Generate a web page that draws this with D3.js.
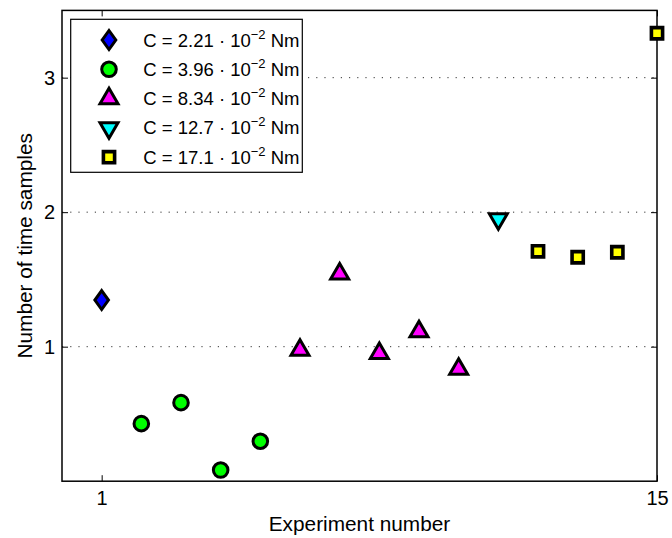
<!DOCTYPE html>
<html>
<head>
<meta charset="utf-8">
<script src="https://cdn.jsdelivr.net/npm/d3@7"></script>
<style>
  html, body { margin: 0; padding: 0; background: #fff; }
  svg { display: block; font-family: "Liberation Sans", Arial, Helvetica, sans-serif; }
</style>
</head>
<body>
<svg id="chart" width="672" height="538"></svg>
<script>
// Experiment index and measured number of time samples
const experiments = [1, 2, 3, 4, 5, 6, 7, 8, 9, 10, 11, 12, 13, 14, 15];
const samples = [1.347, 0.428, 0.584, 0.083, 0.297, 0.975, 1.542, 0.951, 1.112, 0.833, 1.950, 1.709, 1.665, 1.702, 3.33];
// Which torque group each experiment belongs to
const groupOf = [0, 1, 1, 1, 1, 2, 2, 2, 2, 2, 3, 4, 4, 4, 4];

// Torque groups: legend value, marker shape, fill colour
const torqueValues = ["2.21", "3.96", "8.34", "12.7", "17.1"];
const markerShapes = ["diamond", "circle", "triangleUp", "triangleDown", "square"];
const markerColors = ["#0000ff", "#00ff00", "#ff00ff", "#00ffff", "#ffff00"];

const xTicks = [1, 15];
const yTicks = [1, 2, 3];

const margin = { left: 62, right: 15, top: 10.4, bottom: 56.8 };
const W = 672, H = 538;
const svg = d3.select("#chart");

const x = d3.scaleLinear().domain([0, 15]).range([margin.left, W - margin.right]);
const y = d3.scaleLinear().domain([0, 3.5]).range([H - margin.bottom, margin.top]);

const x0 = x.range()[0], x1 = x.range()[1];
const y0 = y.range()[0], y1 = y.range()[1];

// Dotted horizontal grid
svg.append("g")
  .selectAll("line")
  .data(yTicks)
  .join("line")
  .attr("x1", x0).attr("x2", x1)
  .attr("y1", d => y(d)).attr("y2", d => y(d))
  .attr("stroke", "#333")
  .attr("stroke-width", 1)
  .attr("stroke-dasharray", "1.2,7");

const tickLen = 6;
const tickFont = 20;
const labelFont = 20.8;
const fmt = d3.format("d");

// Bottom axis with inward ticks
const xAxis = d3.axisBottom(x).tickValues(xTicks).tickFormat(fmt)
  .tickSizeInner(-tickLen).tickSizeOuter(0).tickPadding(10);
svg.append("g").attr("transform", `translate(0,${y0})`).call(xAxis)
  .attr("font-family", null).attr("font-size", tickFont)
  .call(g => g.select(".domain").remove())
  .call(g => g.selectAll("text").attr("fill", "#000"))
  .call(g => g.selectAll("line").attr("stroke", "#000"));

// Top axis ticks (box)
svg.append("g").attr("transform", `translate(0,${y1})`)
  .call(d3.axisTop(x).tickValues(xTicks).tickSizeInner(-tickLen).tickSizeOuter(0).tickFormat(""))
  .call(g => g.select(".domain").remove())
  .call(g => g.selectAll("line").attr("stroke", "#000"));

// Left axis with inward ticks
const yAxis = d3.axisLeft(y).tickValues(yTicks).tickFormat(fmt)
  .tickSizeInner(-tickLen).tickSizeOuter(0).tickPadding(7);
svg.append("g").attr("transform", `translate(${x0},0)`).call(yAxis)
  .attr("font-family", null).attr("font-size", tickFont)
  .call(g => g.select(".domain").remove())
  .call(g => g.selectAll("text").attr("fill", "#000"))
  .call(g => g.selectAll("line").attr("stroke", "#000"));

// Right axis ticks (box)
svg.append("g").attr("transform", `translate(${x1},0)`)
  .call(d3.axisRight(y).tickValues(yTicks).tickSizeInner(-tickLen).tickSizeOuter(0).tickFormat(""))
  .call(g => g.select(".domain").remove())
  .call(g => g.selectAll("line").attr("stroke", "#000"));

// Axes box
svg.append("rect")
  .attr("x", x0).attr("y", y1)
  .attr("width", x1 - x0).attr("height", y0 - y1)
  .attr("fill", "none").attr("stroke", "#000").attr("stroke-width", 1.5);

// Axis titles
svg.append("text")
  .attr("x", (x0 + x1) / 2).attr("y", 531)
  .attr("text-anchor", "middle").attr("font-size", labelFont)
  .text("Experiment number");

svg.append("text")
  .attr("transform", `translate(32,${(y0 + y1) / 2}) rotate(-90)`)
  .attr("text-anchor", "middle").attr("font-size", labelFont)
  .text("Number of time samples");

// Marker path generators (centred on the data point)
function markerPath(shape) {
  switch (shape) {
    case "diamond":
      return "M0,-9.5L6.8,0L0,9.5L-6.8,0Z";
    case "circle":
      return d3.symbol(d3.symbolCircle, Math.PI * 7.3 * 7.3)();
    case "triangleUp": {
      const r = 10.4;
      const h = r * Math.sqrt(3) / 2;
      return `M0,${-r}L${h},${r / 2}L${-h},${r / 2}Z`;
    }
    case "triangleDown": {
      const r = 10.4;
      const h = r * Math.sqrt(3) / 2;
      return `M0,${r}L${h},${-r / 2}L${-h},${-r / 2}Z`;
    }
    case "square":
      return "M-5.6,-5.6H5.6V5.6H-5.6Z";
  }
}

const points = experiments.map((e, i) => ({ e, v: samples[i], g: groupOf[i] }));

svg.append("g")
  .selectAll("path")
  .data(points)
  .join("path")
  .attr("transform", d => `translate(${x(d.e)},${y(d.v)})`)
  .attr("d", d => markerPath(markerShapes[d.g]))
  .attr("fill", d => markerColors[d.g])
  .attr("stroke", "#000")
  .attr("stroke-width", d => markerShapes[d.g] === "square" ? 3.6 : 3)
  .attr("stroke-linejoin", "miter");

// Legend
const legend = svg.append("g");
legend.append("rect")
  .attr("x", 70.7).attr("y", 19.3)
  .attr("width", 231.6).attr("height", 153)
  .attr("fill", "#fff").attr("stroke", "#000").attr("stroke-width", 1.2);

const rowY = i => 40 + i * 29.3;
const rows = legend.selectAll("g.row")
  .data(torqueValues)
  .join("g")
  .attr("class", "row");

rows.append("path")
  .attr("transform", (d, i) => `translate(109,${rowY(i)})`)
  .attr("d", (d, i) => markerPath(markerShapes[i]))
  .attr("fill", (d, i) => markerColors[i])
  .attr("stroke", "#000")
  .attr("stroke-width", (d, i) => markerShapes[i] === "square" ? 3.6 : 3);

const txt = rows.append("text")
  .attr("x", 143.3)
  .attr("y", (d, i) => rowY(i) + 6.5)
  .attr("font-size", 18.5);
txt.append("tspan").text(d => `C = ${d} \u00b7 10`);
txt.append("tspan").attr("dy", -8).attr("font-size", 13).text("\u22122");
txt.append("tspan").attr("dy", 8).text(" Nm");
</script>
</body>
</html>
